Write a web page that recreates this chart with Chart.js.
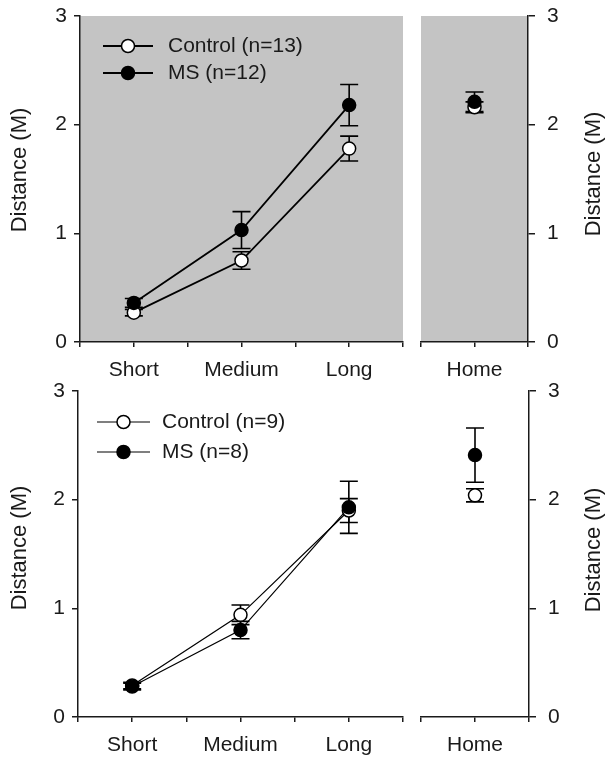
<!DOCTYPE html>
<html lang="en">
<head>
    <meta charset="UTF-8">
    <title>Distance by trial type</title>
    <script src="https://cdn.jsdelivr.net/npm/chart.js"></script>
    <style>
        body { margin: 0; background: #fff; }
        #wrap { position: relative; width: 606px; height: 759px; }
        canvas { position: absolute; }
    </style>
</head>
<body>
<div id="wrap">
    <canvas id="topMain" width="414" height="380" style="left:0;top:0"></canvas>
    <canvas id="topHome" width="196" height="380" style="left:410px;top:0"></canvas>
    <canvas id="botMain" width="414" height="380" style="left:0;top:375px"></canvas>
    <canvas id="botHome" width="196" height="380" style="left:410px;top:375px"></canvas>
</div>
<script>
const categories = ['Short', 'Medium', 'Long'];
const homeCategory = ['Home'];
const yTicks = [0, 1, 2, 3];

// upper panel (grey)
const topControl = [0.27, 0.75, 1.78];
const topControlErr = [0.03, 0.08, 0.115];
const topMS = [0.36, 1.03, 2.18];
const topMSErr = [0.04, 0.17, 0.19];
const topControlHome = [2.16];
const topControlHomeErr = [0.05];
const topMSHome = [2.21];
const topMSHomeErr = [0.09];

// lower panel
const botControl = [0.29, 0.94, 1.90];
const botControlErr = [0.03, 0.09, 0.11];
const botMS = [0.28, 0.80, 1.93];
const botMSErr = [0.03, 0.08, 0.24];
const botControlHome = [2.04];
const botControlHomeErr = [0.06];
const botMSHome = [2.41];
const botMSHomeErr = [0.25];

const FONT = "'Liberation Sans', Arial, Helvetica, sans-serif";
const INK = '#1a1a1a';

// grey background behind the plot area
const panelFill = {
    id: 'panelFill',
    beforeDraw(chart, args, opts) {
        if (!opts.color) return;
        const a = chart.chartArea;
        chart.ctx.save();
        chart.ctx.fillStyle = opts.color;
        chart.ctx.fillRect(a.left, a.top, a.right - a.left, a.bottom - a.top);
        chart.ctx.restore();
    }
};

// mean +/- error, drawn under the markers
const errorBars = {
    id: 'errorBars',
    beforeDatasetsDraw(chart) {
        const ctx = chart.ctx, y = chart.scales.y;
        ctx.save();
        ctx.strokeStyle = '#000';
        ctx.lineWidth = 1.6;
        chart.data.datasets.forEach((ds, i) => {
            chart.getDatasetMeta(i).data.forEach((pt, j) => {
                const v = ds.data[j].y, e = ds.errors[j];
                const hi = y.getPixelForValue(v + e), lo = y.getPixelForValue(v - e);
                ctx.beginPath();
                ctx.moveTo(pt.x, hi); ctx.lineTo(pt.x, lo);
                ctx.moveTo(pt.x - 9, hi); ctx.lineTo(pt.x + 9, hi);
                ctx.moveTo(pt.x - 9, lo); ctx.lineTo(pt.x + 9, lo);
                ctx.stroke();
            });
        });
        ctx.restore();
    }
};

// legend inside the plot: line with marker, then label
const insideLegend = {
    id: 'insideLegend',
    afterDraw(chart, args, opts) {
        if (!opts.display) return;
        const ctx = chart.ctx, a = chart.chartArea;
        ctx.save();
        chart.data.datasets.forEach((ds, i) => {
            const y = a.top + opts.top + i * opts.gap;
            const x0 = a.left + opts.left;
            ctx.strokeStyle = '#000';
            ctx.lineWidth = ds.borderWidth;
            ctx.beginPath();
            ctx.moveTo(x0, y); ctx.lineTo(x0 + opts.lineLen, y);
            ctx.stroke();
            ctx.beginPath();
            ctx.arc(x0 + opts.lineLen / 2, y, ds.pointRadius, 0, Math.PI * 2);
            ctx.fillStyle = ds.pointBackgroundColor;
            ctx.fill();
            ctx.lineWidth = ds.pointBorderWidth;
            ctx.stroke();
            ctx.fillStyle = INK;
            ctx.font = '21px ' + FONT;
            ctx.textAlign = 'left';
            ctx.textBaseline = 'middle';
            ctx.fillText(ds.label, x0 + opts.textX, y);
        });
        ctx.restore();
    }
};

// vertical axis title, reading bottom to top on both sides
const sideTitle = {
    id: 'sideTitle',
    afterDraw(chart, args, opts) {
        const ctx = chart.ctx, a = chart.chartArea;
        ctx.save();
        ctx.translate(opts.x, (a.top + a.bottom) / 2 + opts.dy);
        ctx.rotate(-Math.PI / 2);
        ctx.fillStyle = INK;
        ctx.font = '22px ' + FONT;
        ctx.textAlign = 'center';
        ctx.textBaseline = 'middle';
        ctx.fillText(opts.text, 0, 0);
        ctx.restore();
    }
};

function makeChart(id, cfg) {
    const toPoints = vals => vals.map((v, i) => ({ x: 2 * i + 1, y: v }));
    const common = {
        borderColor: '#000',
        borderWidth: cfg.lineWidth,
        pointRadius: 6.5,
        pointBorderWidth: 1.5,
        pointBorderColor: '#000',
        tension: 0
    };
    return new Chart(document.getElementById(id), {
        type: 'line',
        data: {
            datasets: [
                { ...common, label: cfg.controlLabel, data: toPoints(cfg.control), errors: cfg.controlErr,
                  pointBackgroundColor: '#fff', order: 1 },
                { ...common, label: cfg.msLabel, data: toPoints(cfg.ms), errors: cfg.msErr,
                  pointBackgroundColor: '#000', order: 0 }
            ]
        },
        options: {
            responsive: false,
            animation: false,
            layout: { padding: cfg.padding },
            scales: {
                x: {
                    type: 'linear',
                    min: 0,
                    max: cfg.labels.length * 2,
                    afterBuildTicks: s => { s.ticks = s.ticks.filter(t => Number.isInteger(t.value)); },
                    ticks: {
                        stepSize: 1,
                        autoSkip: false,
                        maxRotation: 0,
                        padding: 11,
                        color: INK,
                        font: { family: FONT, size: 21 },
                        callback: v => (v % 2 === 1 ? cfg.labels[(v - 1) / 2] : '')
                    },
                    grid: { drawOnChartArea: false, tickLength: 5, color: INK, lineWidth: 1.5 },
                    border: { color: INK, width: 1.5 },
                    afterFit: s => { s.height = 38; }
                },
                y: {
                    position: cfg.yPos,
                    min: 0,
                    max: 3,
                    afterBuildTicks: s => { s.ticks = yTicks.map(v => ({ value: v })); },
                    ticks: {
                        padding: cfg.yPos === 'left' ? 7 : 12,
                        color: INK,
                        font: { family: FONT, size: 21 }
                    },
                    grid: { drawOnChartArea: false, tickLength: cfg.yPos === 'left' ? 6 : 7, color: INK, lineWidth: 1.5 },
                    border: { color: INK, width: 1.5 },
                    // fixed axis box so every panel lines up
                    afterFit: s => { s.width = cfg.yWidth; s.paddingTop = 0; s.paddingBottom = 0; }
                }
            },
            plugins: {
                legend: { display: false },
                tooltip: { enabled: false },
                panelFill: { color: cfg.fill },
                insideLegend: cfg.legend,
                sideTitle: cfg.title
            }
        },
        plugins: [panelFill, errorBars, insideLegend, sideTitle]
    });
}

makeChart('topMain', {
    labels: categories, control: topControl, controlErr: topControlErr, ms: topMS, msErr: topMSErr,
    controlLabel: 'Control (n=13)', msLabel: 'MS (n=12)', lineWidth: 1.8,
    padding: { top: 16, right: 7, left: 0, bottom: 0 }, yPos: 'left', yWidth: 80, fill: '#c4c4c4',
    legend: { display: true, left: 23, lineLen: 50, textX: 65, top: 30, gap: 27 },
    title: { text: 'Distance (M)', x: 20, dy: -9 }
});
makeChart('topHome', {
    labels: homeCategory, control: topControlHome, controlErr: topControlHomeErr, ms: topMSHome, msErr: topMSHomeErr,
    controlLabel: 'Control (n=13)', msLabel: 'MS (n=12)', lineWidth: 1.8,
    padding: { top: 16, right: 0, left: 9, bottom: 0 }, yPos: 'right', yWidth: 78, fill: '#c4c4c4',
    legend: { display: false },
    title: { text: 'Distance (M)', x: 184, dy: -5 }
});
makeChart('botMain', {
    labels: categories, control: botControl, controlErr: botControlErr, ms: botMS, msErr: botMSErr,
    controlLabel: 'Control (n=9)', msLabel: 'MS (n=8)', lineWidth: 1.2,
    padding: { top: 16, right: 9, left: 0, bottom: 0 }, yPos: 'left', yWidth: 78, fill: null,
    legend: { display: true, left: 19, lineLen: 53, textX: 65, top: 31, gap: 30 },
    title: { text: 'Distance (M)', x: 20, dy: -6 }
});
makeChart('botHome', {
    labels: homeCategory, control: botControlHome, controlErr: botControlHomeErr, ms: botMSHome, msErr: botMSHomeErr,
    controlLabel: 'Control (n=9)', msLabel: 'MS (n=8)', lineWidth: 1.2,
    padding: { top: 16, right: 0, left: 9, bottom: 0 }, yPos: 'right', yWidth: 77, fill: null,
    legend: { display: false },
    title: { text: 'Distance (M)', x: 184, dy: -4 }
});
</script>
</body>
</html>
